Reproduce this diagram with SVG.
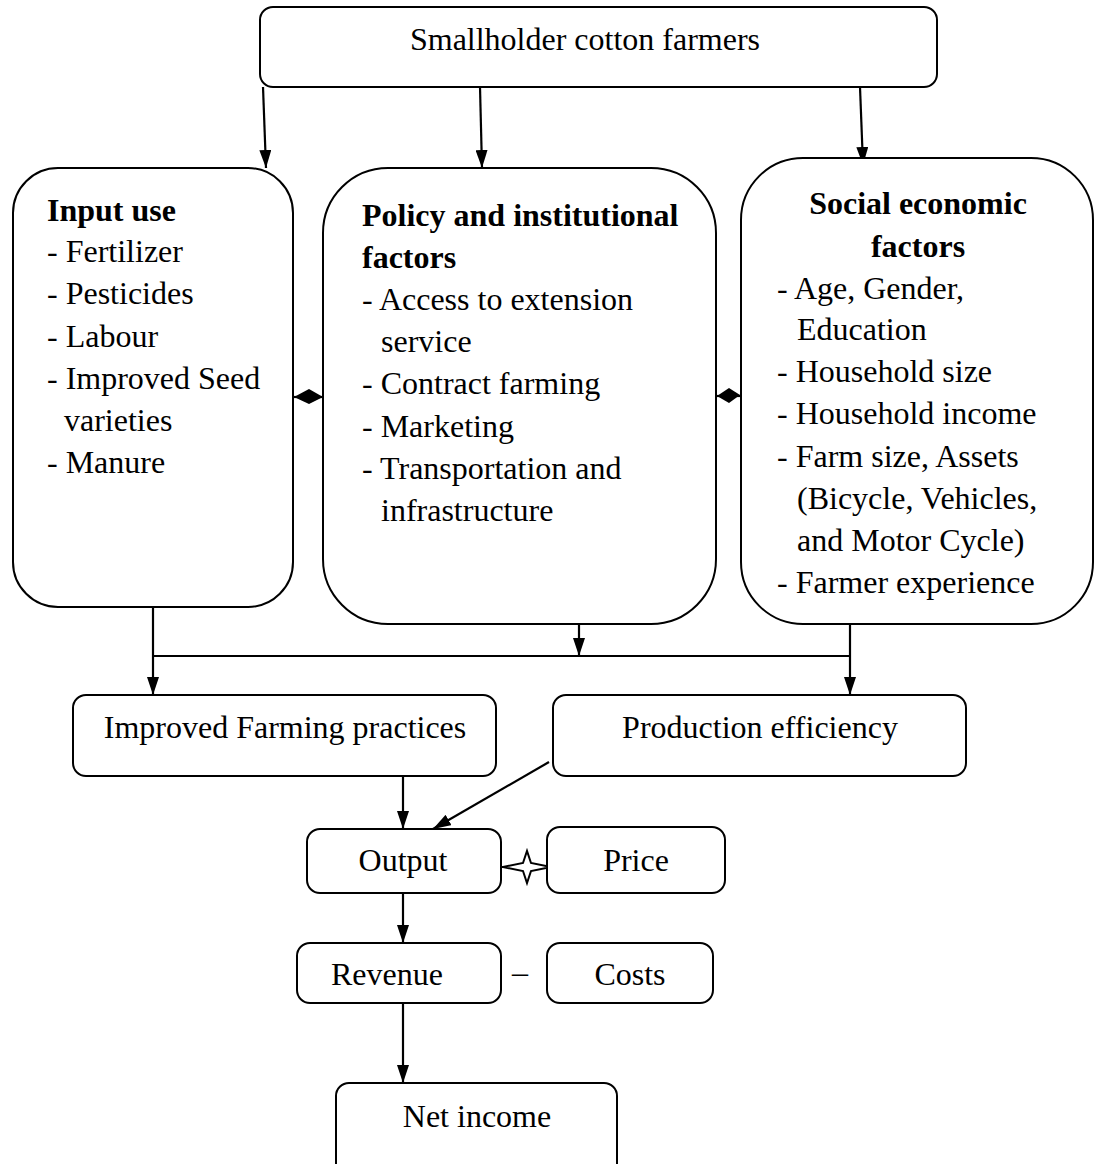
<svg xmlns="http://www.w3.org/2000/svg" width="1094" height="1164" viewBox="0 0 1094 1164">
<defs>
<marker id="arr" markerWidth="18" markerHeight="12" refX="18" refY="6" viewBox="0 0 18 12" orient="auto" markerUnits="userSpaceOnUse">
<path d="M0,0 L18,6 L0,12 Z" fill="#000"/>
</marker>
<style>
.box{fill:#fff;stroke:#000;stroke-width:2}
.t{font-family:"Liberation Serif","Times New Roman",serif;font-size:32px;fill:#000}
.b{font-weight:bold}
.c{text-anchor:middle}
.ln{stroke:#000;stroke-width:2.2;fill:none}
</style>
</defs>
<rect width="1094" height="1164" fill="#fff"/>

<g id="connectors">
<line class="ln" x1="263" y1="87" x2="266" y2="168" marker-end="url(#arr)"/>
<line class="ln" x1="480" y1="87" x2="482" y2="168" marker-end="url(#arr)"/>
<line class="ln" x1="860" y1="87" x2="863" y2="165" marker-end="url(#arr)"/>
<line class="ln" x1="294" y1="397" x2="323" y2="397"/>
<path d="M294,397 L309,389 L323,397 L309,404 Z" fill="#000"/>
<line class="ln" x1="716" y1="396" x2="741" y2="396"/>
<path d="M717,396 L729,388 L740,395 L729,403 Z" fill="#000"/>
<line class="ln" x1="153" y1="607" x2="153" y2="695" marker-end="url(#arr)"/>
<line class="ln" x1="153" y1="656" x2="850" y2="656"/>
<line class="ln" x1="579" y1="624" x2="579" y2="656" marker-end="url(#arr)"/>
<line class="ln" x1="850" y1="624" x2="850" y2="695" marker-end="url(#arr)"/>
<line class="ln" x1="403" y1="776" x2="403" y2="829" marker-end="url(#arr)"/>
<line class="ln" x1="549" y1="762" x2="433" y2="829" marker-end="url(#arr)"/>
<line class="ln" x1="501" y1="867" x2="553" y2="867"/>
<path d="M503,867 L523,863 L527,851 L531,863 L551,867 L531,871 L527,883 L523,871 Z" fill="#fff" stroke="#000" stroke-width="2"/>
<line class="ln" x1="403" y1="893" x2="403" y2="943" marker-end="url(#arr)"/>
<line class="ln" x1="403" y1="1003" x2="403" y2="1083" marker-end="url(#arr)"/>
</g>

<g id="farmers">
<rect class="box" x="260" y="7" width="677" height="80" rx="13"/>
<text class="t c" x="585" y="50">Smallholder cotton farmers</text>
</g>

<g id="input-use">
<rect class="box" x="13" y="168" width="280" height="439" rx="45"/>
<text class="t b" x="47" y="221">Input use</text>
<text class="t" x="47" y="262">- Fertilizer</text>
<text class="t" x="47" y="304">- Pesticides</text>
<text class="t" x="47" y="347">- Labour</text>
<text class="t" x="47" y="389">- Improved Seed</text>
<text class="t" x="64" y="431">varieties</text>
<text class="t" x="47" y="473">- Manure</text>
</g>

<g id="policy">
<rect class="box" x="323" y="168" width="393" height="456" rx="65"/>
<text class="t b" x="362" y="226">Policy and institutional</text>
<text class="t b" x="362" y="268">factors</text>
<text class="t" x="362" y="310">- Access to extension</text>
<text class="t" x="381" y="352">service</text>
<text class="t" x="362" y="394">- Contract farming</text>
<text class="t" x="362" y="437">- Marketing</text>
<text class="t" x="362" y="479">- Transportation and</text>
<text class="t" x="381" y="521">infrastructure</text>
</g>

<g id="social">
<rect class="box" x="741" y="158" width="352" height="466" rx="62"/>
<text class="t b c" x="918" y="214">Social economic</text>
<text class="t b c" x="918" y="257">factors</text>
<text class="t" x="777" y="299">- Age, Gender,</text>
<text class="t" x="797" y="340">Education</text>
<text class="t" x="777" y="382">- Household size</text>
<text class="t" x="777" y="424">- Household income</text>
<text class="t" x="777" y="467">- Farm size, Assets</text>
<text class="t" x="797" y="509">(Bicycle, Vehicles,</text>
<text class="t" x="797" y="551">and Motor Cycle)</text>
<text class="t" x="777" y="593">- Farmer experience</text>
</g>

<g id="improved">
<rect class="box" x="73" y="695" width="423" height="81" rx="13"/>
<text class="t c" x="285" y="738">Improved Farming practices</text>
</g>

<g id="efficiency">
<rect class="box" x="553" y="695" width="413" height="81" rx="13"/>
<text class="t c" x="760" y="738">Production efficiency</text>
</g>

<g id="output">
<rect class="box" x="307" y="829" width="194" height="64" rx="13"/>
<text class="t c" x="403" y="871">Output</text>
</g>

<g id="price">
<rect class="box" x="547" y="827" width="178" height="66" rx="13"/>
<text class="t c" x="636" y="871">Price</text>
</g>

<g id="revenue">
<rect class="box" x="297" y="943" width="204" height="60" rx="13"/>
<text class="t c" x="387" y="985">Revenue</text>
</g>

<text class="t c" x="520" y="983">–</text>

<g id="costs">
<rect class="box" x="547" y="943" width="166" height="60" rx="13"/>
<text class="t c" x="630" y="985">Costs</text>
</g>

<g id="net-income">
<rect class="box" x="336" y="1083" width="281" height="100" rx="13"/>
<text class="t c" x="477" y="1127">Net income</text>
</g>
</svg>
